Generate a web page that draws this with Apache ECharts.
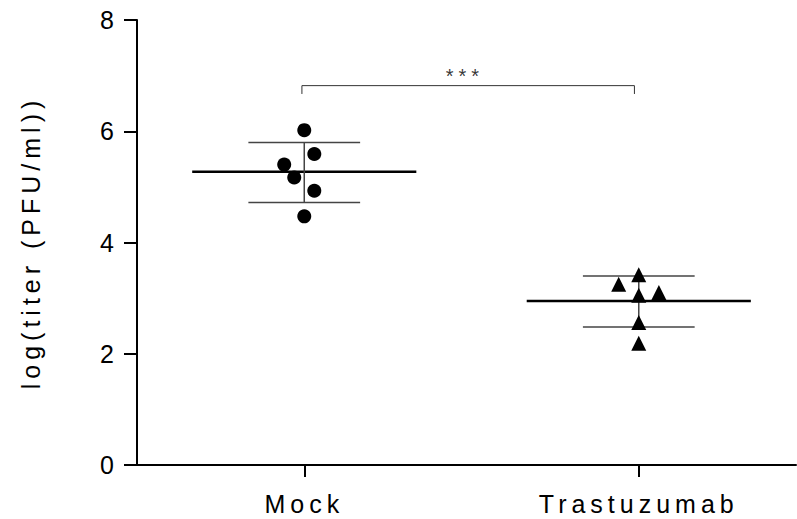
<!DOCTYPE html>
<html>
<head>
<meta charset="utf-8">
<script src="https://cdn.jsdelivr.net/npm/echarts@6/dist/echarts.min.js"></script>
<style>
  html, body { margin: 0; padding: 0; background: #fff; }
  #chart { width: 797px; height: 519px; }
  /* the original figure has wide tracking on every text */
  #chart svg text { letter-spacing: 5px; }
</style>
</head>
<body>
<div id="chart"></div>
<script>
const groups = ['Mock', 'Trastuzumab'];
const groupPos = [1, 2];

// individual points (x = group position + horizontal scatter)
const mockX = [1, 1.03, 0.94, 0.97, 1.03, 1];
const mockY = [6.02, 5.59, 5.40, 5.17, 4.93, 4.47];
const trastX = [2, 1.94, 2.06, 2, 2, 2];
const trastY = [3.42, 3.25, 3.10, 3.05, 2.56, 2.19];

// mean and SD bars
const means = [5.27, 2.95];
const sdLow = [4.72, 2.48];
const sdHigh = [5.80, 3.40];

// significance bracket
const bracketX = [0.993, 1.987];
const bracketTop = 6.82;
const bracketFoot = 6.67;
const sigLabel = '***';

const yTicks = [0, 2, 4, 6, 8];
const yTitle = 'log(titer (PFU/ml))';

const FONT = '"Liberation Sans", Arial, sans-serif';

const chart = echarts.init(document.getElementById('chart'), null, { renderer: 'svg' });

function segment(points, width, color) {
  return {
    type: 'line',
    data: points,
    symbol: 'none',
    silent: true,
    lineStyle: { width: width, color: color },
    z: 2
  };
}

const series = [];

groupPos.forEach((x, i) => {
  series.push(segment([[x - 0.335, means[i]], [x + 0.335, means[i]]], 2.5, '#000'));
  series.push(segment([[x - 0.167, sdLow[i]], [x + 0.167, sdLow[i]]], 1.5, '#444'));
  series.push(segment([[x - 0.167, sdHigh[i]], [x + 0.167, sdHigh[i]]], 1.5, '#444'));
  series.push(segment([[x, sdLow[i]], [x, sdHigh[i]]], 1.5, '#444'));
});

series.push({
  type: 'scatter',
  data: mockX.map((x, i) => [x, mockY[i]]),
  symbol: 'circle',
  symbolSize: 14,
  itemStyle: { color: '#000', opacity: 1 },
  z: 3
});

series.push({
  type: 'scatter',
  data: trastX.map((x, i) => [x, trastY[i]]),
  symbol: 'triangle',
  symbolSize: 15,
  itemStyle: { color: '#000', opacity: 1 },
  z: 3
});

series.push(segment([
  [bracketX[0], bracketFoot],
  [bracketX[0], bracketTop],
  [bracketX[1], bracketTop],
  [bracketX[1], bracketFoot]
], 1, '#333'));

series.push({
  type: 'scatter',
  data: [[1.48, bracketTop]],
  symbolSize: 0,
  silent: true,
  label: {
    show: true,
    position: 'top',
    distance: 0,
    formatter: sigLabel,
    color: '#000',
    fontSize: 20,
    fontFamily: FONT
  }
});

const option = {
  animation: false,
  backgroundColor: '#fff',
  grid: {
    left: 137,
    right: 1,
    top: 20,
    bottom: 54
  },
  xAxis: {
    type: 'value',
    min: 0.5,
    max: 2.47,
    axisLine: { show: true, lineStyle: { color: '#000', width: 2 } },
    axisTick: {
      show: true,
      customValues: groupPos,
      length: 12,
      lineStyle: { color: '#000', width: 2 }
    },
    axisLabel: {
      customValues: groupPos,
      formatter: v => groups[groupPos.indexOf(v)] || '',
      color: '#000',
      fontSize: 25,
      fontFamily: FONT,
      margin: 26
    },
    splitLine: { show: false }
  },
  yAxis: {
    type: 'value',
    min: yTicks[0],
    max: yTicks[yTicks.length - 1],
    interval: 2,
    name: yTitle,
    nameLocation: 'middle',
    nameGap: 94,
    nameTextStyle: {
      color: '#000',
      fontSize: 25,
      fontFamily: FONT
    },
    axisLine: { show: true, lineStyle: { color: '#000', width: 2 } },
    axisTick: { show: true, length: 13, lineStyle: { color: '#000', width: 2 } },
    axisLabel: {
      color: '#000',
      fontSize: 25,
      fontFamily: FONT,
      margin: 18
    },
    splitLine: { show: false }
  },
  series
};

chart.setOption(option);
</script>
</body>
</html>
